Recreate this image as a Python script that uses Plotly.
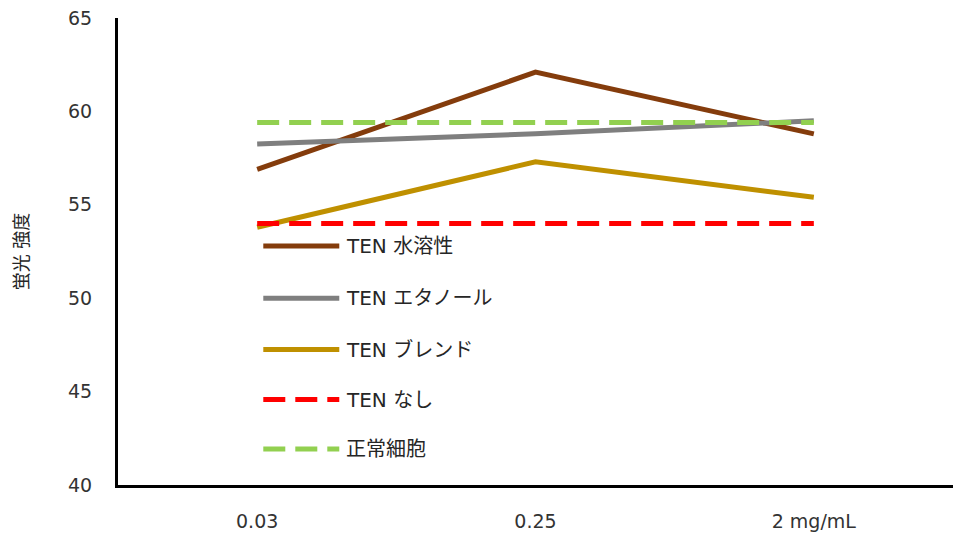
import plotly.graph_objects as go

categories = ["0.03", "0.25", "2 mg/mL"]
series_names = ["TEN 水溶性", "TEN エタノール", "TEN ブレンド", "TEN なし", "正常細胞"]
water = [56.9, 62.1, 58.8]
ethanol = [58.25, 58.8, 59.5]
blend = [53.8, 57.3, 55.4]
none_ = [54.0, 54.0, 54.0]
normal = [59.4, 59.4, 59.4]
y_ticks = [40, 45, 50, 55, 60, 65]

values = [water, ethanol, blend, none_, normal]
colors = ["#843C0C", "#7F7F7F", "#BF9000", "#FF0000", "#92D050"]
dashes = ["solid", "solid", "solid", "22px,10px", "22px,10px"]

FONT = "'DejaVu Sans', 'Noto Sans CJK JP', sans-serif"

fig = go.Figure()
for name, vals, col, dash in zip(series_names, values, colors, dashes):
    fig.add_trace(go.Scatter(x=categories, y=vals, mode="lines", name=name,
                             line=dict(color=col, width=5, dash=dash),
                             showlegend=False))

# custom legend (longer line samples as in the reference)
leg_y = [0.512, 0.400, 0.290, 0.183, 0.077]
for name, col, dash, yy in zip(series_names, colors, dashes, leg_y):
    fig.add_shape(type="line", xref="paper", yref="paper",
                  x0=0.174, x1=0.265, y0=yy, y1=yy,
                  line=dict(color=col, width=5, dash=dash))
    fig.add_annotation(xref="paper", yref="paper", x=0.271, y=yy,
                       text=name, showarrow=False, xanchor="left", yanchor="middle",
                       font=dict(family=FONT, size=20, color="#262626"))

fig.update_layout(
    width=953, height=533,
    margin=dict(l=118, r=0, t=18, b=48, autoexpand=False),
    paper_bgcolor="white", plot_bgcolor="white",
    font=dict(family=FONT, color="#333333"),
    xaxis=dict(showline=True, linecolor="black", linewidth=3, showgrid=False,
               range=[-0.5, 2.5], automargin=False,
               ticks="", ticklabelstandoff=17, tickfont=dict(size=19),
               zeroline=False),
    yaxis=dict(showline=True, linecolor="black", linewidth=3, showgrid=False,
               range=[40, 65], tickvals=y_ticks, ticks="", ticklabelstandoff=19,
               tickfont=dict(size=19), zeroline=False, automargin=False,
               title=dict(text="蛍光 強度", standoff=35,
                          font=dict(size=18, color="#262626"))),
)

fig.write_html("out.html")
